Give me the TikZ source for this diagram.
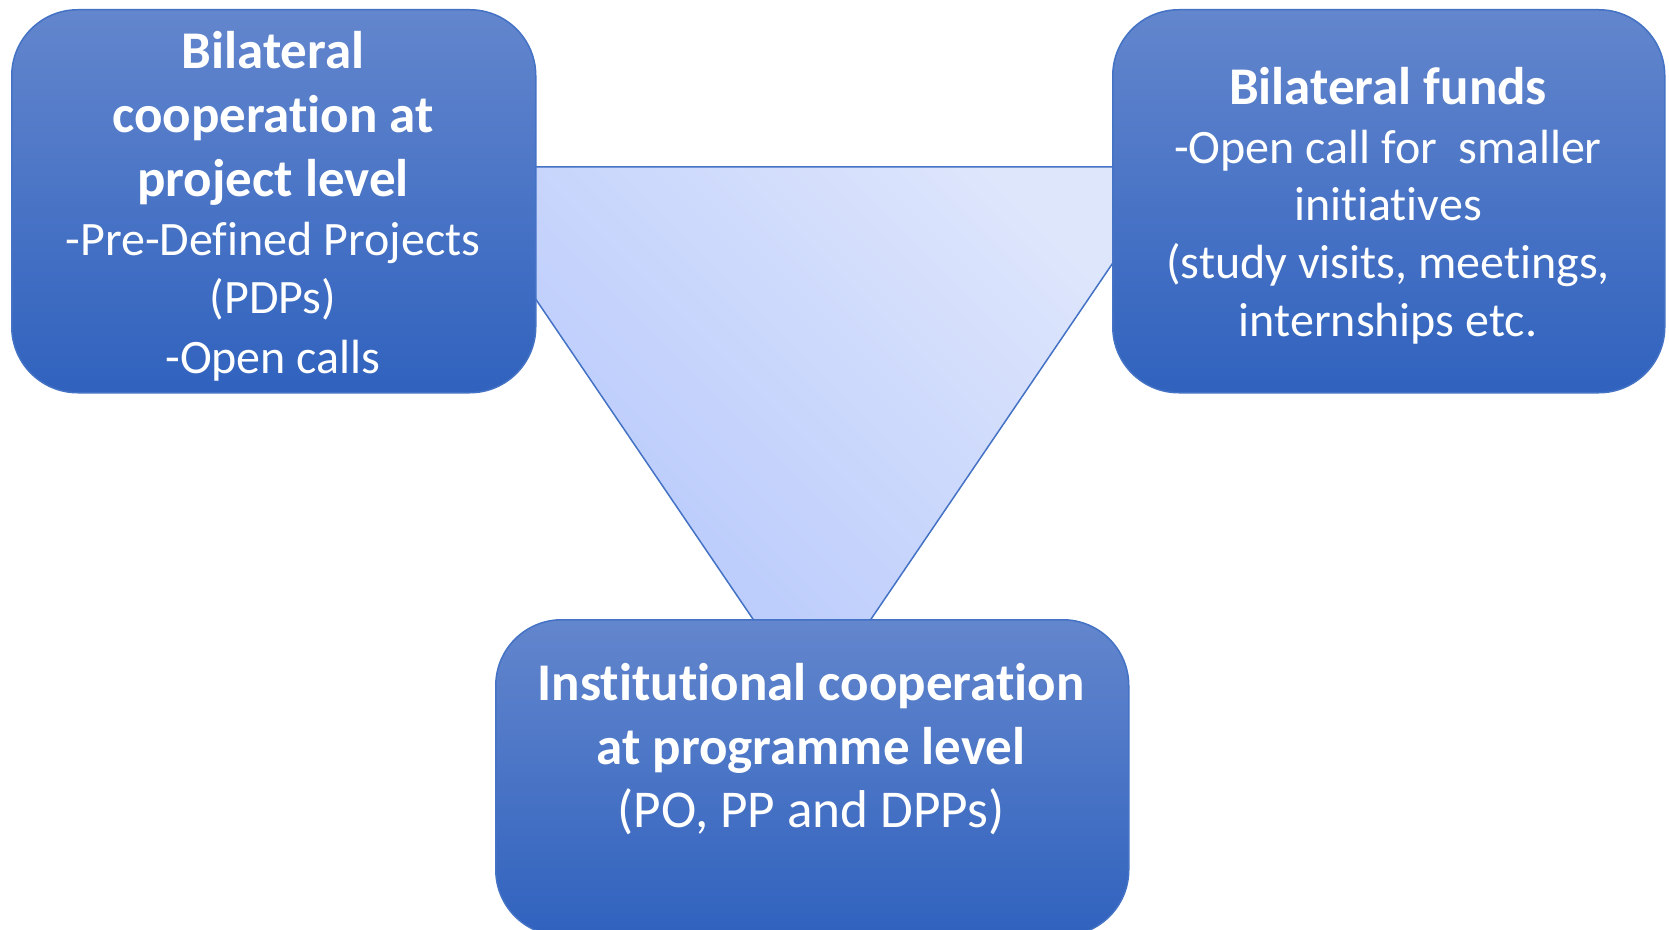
\documentclass[tikz,border=0pt]{standalone}
\usepackage{fontspec}
\setmainfont{Carlito}[Ligatures={NoCommon,NoContextual,NoRequired}, Contextuals=NoAlternate]
\newcommand\nlg{\kern0pt{}}
\definecolor{boxtop}{RGB}{99,134,205}
\definecolor{boxbot}{RGB}{48,98,190}
\definecolor{boxline}{RGB}{68,114,196}
\definecolor{trilight}{RGB}{222,230,252}
\definecolor{tridark}{RGB}{178,197,252}
\tikzset{
  box/.style={draw=boxline, line width=0.75pt, rounded corners=33pt,
    top color=boxtop, bottom color=boxbot, rectangle, inner sep=0pt, anchor=north west},
  ttl/.style={font=\fontsize{26.5}{32}\selectfont\bfseries, text=white, anchor=base, inner sep=0pt},
  txt/.style={font=\fontsize{24}{29}\selectfont, text=white, anchor=base, inner sep=0pt},
  bigtxt/.style={txt, font=\fontsize{26.6}{32}\selectfont},
}
\begin{document}
\begin{tikzpicture}[x=0.5pt, y=-0.5pt]
\useasboundingbox (0,0) rectangle (1669,930);
% triangle
\coordinate (t1) at (446,167);
\coordinate (t2) at (1178,167);
\coordinate (t3) at (812,706);
\shadedraw[draw=boxline, line width=0.75pt, top color=trilight, bottom color=tridark, shading angle=-45]
  (t1) -- (t2) -- (t3) -- cycle;
% boxes
\node[box, minimum width=262pt, minimum height=191.5pt] (L) at (11,9) {};
\node[box, minimum width=276pt, minimum height=191.5pt] (R) at (1112,9) {};
\node[box, minimum width=316.5pt, minimum height=158pt] (B) at (495,619) {};
% left texts
\node[ttl] (l1) at (273,69) {Bilateral};
\node[ttl] (l2) at (273,133) {cooperat\nlg ion at};
\node[ttl] (l3) at (273,197) {project level};
\node[txt] (l4) at (273,256) {-Pre-Def\nlg ined Projects};
\node[txt] (l5) at (273,314) {(PDPs)};
\node[txt] (l6) at (273,373) {-Open calls};
% right texts
\node[ttl] (r1) at (1388,105) {Bilateral funds};
\node[txt] (r2) at (1388,164) {-Open call for\ \ smaller};
\node[txt] (r3) at (1388,221) {init\nlg iat\nlg ives};
\node[txt] (r4) at (1388,279) {(study visits, meetings,};
\node[txt] (r5) at (1388,336) {internships etc.};
% bottom texts
\node[ttl] (b1) at (811,700) {Inst\nlg itut\nlg ional cooperat\nlg ion};
\node[ttl] (b2) at (811,764) {at programme level};
\node[bigtxt] (b3) at (811,827) {(PO, PP and DPPs)};
\end{tikzpicture}
\end{document}
